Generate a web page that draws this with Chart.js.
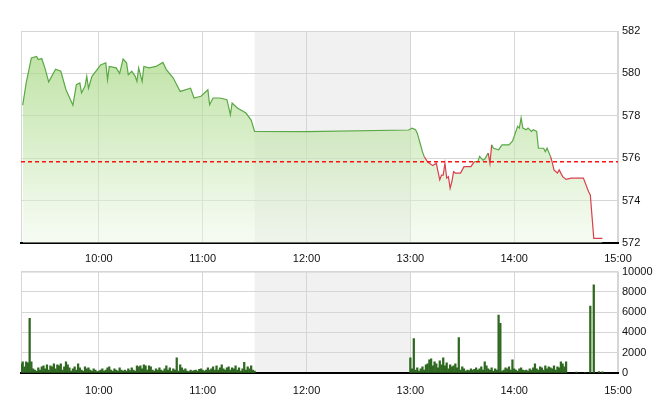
<!DOCTYPE html>
<html>
<head>
<meta charset="utf-8">
<script src="https://cdn.jsdelivr.net/npm/chart.js@4.4.1/dist/chart.umd.min.js"></script>
<style>
  html, body { margin: 0; padding: 0; background: #fff; }
  #wrap { position: relative; width: 660px; height: 412px; }
  #priceChart { position: absolute; left: 0; top: 0; }
  #volChart { position: absolute; left: 0; top: 261px; }
</style>
</head>
<body>
<div id="wrap">
  <canvas id="priceChart" width="660" height="266"></canvas>
  <canvas id="volChart" width="660" height="151"></canvas>
</div>
<script>
// ===== DATA =====
const priceTimes = [
  '09:16','09:18','09:21','09:24','09:25','09:27','09:29','09:31','09:35','09:38',
  '09:41','09:45','09:47','09:49','09:50','09:52','09:53','09:54','09:56','09:59',
  '10:01','10:04','10:05','10:06','10:10','10:12','10:14','10:16','10:17','10:19',
  '10:21','10:22','10:23','10:25','10:26','10:29','10:33','10:37','10:39','10:43',
  '10:47','10:53','10:55','10:59','11:03','11:04','11:06','11:10','11:14','11:16',
  '11:17','11:20','11:25','11:28','11:30','12:00','12:59','13:01','13:03','13:04',
  '13:06','13:07','13:08','13:10','13:13','13:15','13:16','13:17','13:18','13:19',
  '13:20','13:21','13:22','13:23','13:24','13:25','13:26','13:29','13:31','13:35',
  '13:37','13:39','13:40','13:42','13:43','13:45','13:46','13:47','13:48','13:51',
  '13:53','13:57','13:59','14:00','14:02','14:03','14:04','14:05','14:07','14:08',
  '14:10','14:11','14:13','14:14','14:17','14:18','14:19','14:21','14:22','14:23',
  '14:25','14:26','14:28','14:30','14:33','14:40','14:43','14:44','14:46','14:51'
];
const priceValues = [
  578.50, 579.55, 580.73, 580.80, 580.65, 580.70, 580.20, 579.60, 580.20, 580.10,
  579.23, 578.50, 579.47, 579.55, 579.08, 579.40, 579.86, 579.30, 579.86, 580.18,
  580.40, 580.50, 579.70, 580.33, 580.26, 580.00, 580.68, 580.50, 579.94, 580.10,
  579.86, 579.62, 580.26, 579.62, 580.33, 580.26, 580.33, 580.52, 580.18, 579.78,
  579.15, 579.30, 578.84, 578.92, 579.23, 578.52, 578.84, 578.84, 578.76, 578.05,
  578.60, 578.37, 578.13, 577.80, 577.26, 577.25, 577.33, 577.42, 577.34, 577.18,
  576.60, 576.30, 576.08, 575.82, 575.65, 575.76, 575.37, 574.98, 575.20, 575.20,
  575.76, 575.06, 575.13, 574.58, 574.90, 575.37, 575.30, 575.30, 575.60, 575.60,
  575.84, 575.84, 576.08, 575.90, 575.96, 576.24, 575.76, 576.63, 576.47, 576.40,
  576.63, 576.63, 576.80, 577.03, 577.50, 577.42, 577.90, 577.42, 577.34, 577.42,
  577.26, 577.34, 577.26, 576.47, 576.47, 576.31, 576.47, 576.08, 575.80, 575.45,
  575.30, 575.45, 575.13, 575.00, 575.06, 575.06, 574.42, 574.27, 572.22, 572.22
];
const refPrice = 575.83;

// one bar per minute, starting 09:15
const morningStart = '09:15';
const morningVolume = [
  900, 1100, 600, 1100, 1000, 5400, 1100, 400, 300, 200,
  500, 300, 600, 700, 400, 800, 300, 700, 600, 900,
  400, 800, 700, 900, 300, 600, 1100, 800, 500, 200,
  400, 600, 300, 900, 500, 300, 200, 600, 400, 500,
  300, 200, 400, 300, 150, 200, 300, 400, 200, 300,
  500, 600, 300, 200, 400, 300, 200, 500, 300, 200,
  300, 200, 400, 250, 500, 300, 200, 700, 600, 700,
  400, 800, 700, 300, 700, 600, 300, 200, 400, 300,
  500, 300, 200, 400, 700, 300, 500, 200, 400, 300,
  1500, 200, 800, 500, 300, 400, 200, 150, 300, 200,
  250, 300, 200, 350, 400, 300, 200, 300, 500, 300,
  400, 600, 300, 700, 300, 500, 800, 400, 300, 500,
  600, 300, 500, 400, 700, 300, 500, 200, 400, 1050,
  300, 600, 400, 700, 300, 200
];
// one bar per minute, starting 13:00
const afternoonStart = '13:00';
const afternoonVolume = [
  1500, 400, 3400, 300, 500, 200, 400, 600, 300, 800,
  900, 1300, 1400, 700, 1100, 900, 500, 1200, 800, 1500,
  700, 1000, 400, 800, 600, 700, 900, 500, 3500, 300,
  600, 400, 200, 300, 250, 400, 300, 350, 500, 300,
  400, 600, 300, 1100, 700, 400, 300, 500, 200, 400,
  300, 5700, 4900, 200, 300, 500, 400, 600, 300, 1300,
  400, 300, 200, 400, 500, 300, 250, 300, 200, 400,
  300, 500, 900, 400, 300, 600, 500, 300, 700, 400,
  600, 500, 400, 700, 300, 600, 500, 1100, 900, 600,
  1100
];
const lateTimes = ['14:36', '14:41', '14:44', '14:46', '14:49', '14:51'];
const lateVolume = [100, 50, 6600, 8700, 150, 120];

const hourLabels = ['10:00', '11:00', '12:00', '13:00', '14:00', '15:00'];
const priceTicks = [572, 574, 576, 578, 580, 582];
const volumeTicks = [0, 2000, 4000, 6000, 8000, 10000];
const sessionStart = '09:15';
const lunchBreak = ['11:30', '13:00'];

// ===== HELPERS =====
function toMin(s) {
  const [h, m] = s.split(':').map(Number);
  return (h - 9) * 60 + m;
}
function fmtMin(v) {
  const h = 9 + Math.floor(v / 60);
  const m = v % 60;
  return h + ':' + String(m).padStart(2, '0');
}

const hourTicks = hourLabels.map(toMin);
const xMin = toMin(sessionStart);
const xMax = hourTicks[hourTicks.length - 1];

const pricePoints = priceTimes.map((t, i) => ({ x: toMin(t), y: priceValues[i] }));

const volPoints = [];
morningVolume.forEach((v, i) => volPoints.push({ x: toMin(morningStart) + i, y: v }));
afternoonVolume.forEach((v, i) => volPoints.push({ x: toMin(afternoonStart) + i, y: v }));
lateTimes.forEach((t, i) => volPoints.push({ x: toMin(t), y: lateVolume[i] }));

Chart.defaults.font.family = '"Liberation Sans", Arial, sans-serif';
Chart.defaults.font.size = 11;
Chart.defaults.color = '#111';
Chart.defaults.animation = false;

const GRID = '#d6d6d6';
const GREEN = '#5aa846';
const RED = '#d8404c';

// shade lunch + gray frame, before the grid is drawn
const panelBackdrop = {
  id: 'panelBackdrop',
  beforeDraw(chart) {
    const { ctx, chartArea: a, scales } = chart;
    const x0 = scales.x.getPixelForValue(toMin(lunchBreak[0]));
    const x1 = scales.x.getPixelForValue(toMin(lunchBreak[1]));
    ctx.save();
    ctx.fillStyle = '#f1f1f1';
    ctx.fillRect(x0, a.top, x1 - x0, a.bottom - a.top);
    ctx.strokeStyle = GRID;
    ctx.lineWidth = 1;
    ctx.strokeRect(a.left + 0.5, a.top + 0.5, a.right - a.left - 1, a.bottom - a.top);
    ctx.restore();
  }
};

function xScale(height, pad) {
  return {
    type: 'linear',
    min: xMin,
    max: xMax,
    offset: false,
    afterBuildTicks: s => { s.ticks = hourTicks.map(v => ({ value: v })); },
    afterFit: s => { s.height = height; },
    grid: { color: GRID, drawTicks: false, offset: false },
    border: { color: '#000', width: 2 },
    ticks: { autoSkip: false, maxRotation: 0, padding: pad, callback: v => fmtMin(v) }
  };
}

function yScale(ticks) {
  return {
    position: 'right',
    min: ticks[0],
    max: ticks[ticks.length - 1],
    afterBuildTicks: s => { s.ticks = ticks.map(v => ({ value: v })); },
    afterFit: s => { s.width = 42; },
    grid: { color: GRID, drawTicks: false },
    border: { display: false },
    ticks: { padding: 4, callback: v => String(v) }
  };
}

function areaGradient(ctx) {
  const a = ctx.chart.chartArea;
  if (!a) return 'rgba(190,225,160,0.6)';
  const g = ctx.chart.ctx.createLinearGradient(0, a.top, 0, a.bottom);
  g.addColorStop(0, 'rgba(160,212,120,0.75)');
  g.addColorStop(0.55, 'rgba(196,230,174,0.62)');
  g.addColorStop(1, 'rgba(236,247,229,0.45)');
  return g;
}

// ===== PRICE PANEL =====
new Chart(document.getElementById('priceChart'), {
  type: 'line',
  data: {
    datasets: [
      {
        // reference price
        data: [{ x: xMin, y: refPrice }, { x: xMax, y: refPrice }],
        borderColor: '#ff1010',
        borderWidth: 1.4,
        borderDash: [4, 3],
        pointRadius: 0,
        fill: false,
        order: 0
      },
      {
        // price line
        data: pricePoints,
        borderWidth: 1.2,
        pointRadius: 0,
        tension: 0,
        fill: false,
        order: 1,
        borderColor: GREEN,
        segment: {
          borderColor: ctx => (ctx.p0.parsed.y < refPrice || ctx.p1.parsed.y < refPrice) ? RED : GREEN
        }
      },
      {
        // area under the price
        data: pricePoints,
        borderWidth: 0,
        pointRadius: 0,
        tension: 0,
        fill: 'start',
        order: 2,
        backgroundColor: areaGradient
      }
    ]
  },
  options: {
    responsive: false,
    layout: { padding: { left: 21, top: 31, right: 0, bottom: 0 } },
    plugins: { legend: { display: false }, tooltip: { enabled: false } },
    scales: { x: xScale(23, 9), y: yScale(priceTicks) }
  },
  plugins: [panelBackdrop]
});

// ===== VOLUME PANEL =====
new Chart(document.getElementById('volChart'), {
  type: 'bar',
  data: {
    datasets: [{
      data: volPoints,
      backgroundColor: '#2f6820',
      borderWidth: 0,
      barThickness: 1.6
    }]
  },
  options: {
    responsive: false,
    layout: { padding: { left: 21, top: 6, right: 0, bottom: 0 } },
    plugins: { legend: { display: false }, tooltip: { enabled: false } },
    scales: { x: xScale(39, 11), y: yScale(volumeTicks) }
  },
  plugins: [panelBackdrop]
});
</script>
</body>
</html>
